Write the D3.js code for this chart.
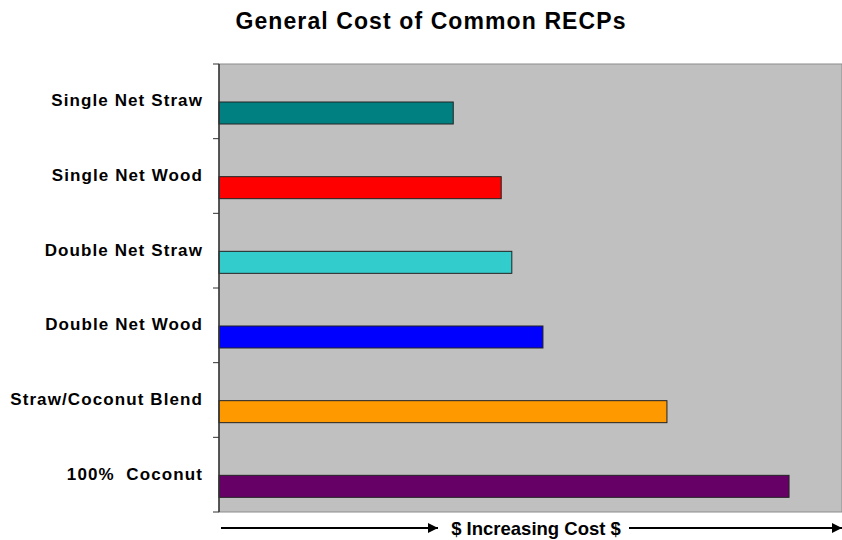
<!DOCTYPE html>
<html>
<head>
<meta charset="utf-8">
<script src="https://cdn.jsdelivr.net/npm/d3@7"></script>
<style>
  body { margin: 0; background: #fff; }
  text { font-family: "Liberation Sans", Arial, sans-serif; }
</style>
</head>
<body>
<script>
// chart data
var categories = ["Single Net Straw", "Single Net Wood", "Double Net Straw", "Double Net Wood", "Straw/Coconut Blend", "100%  Coconut"];
var costs = [37.6, 45.3, 47.0, 52.0, 71.9, 91.5];
var colors = ["#008080", "#ff0000", "#33cccc", "#0000ff", "#ff9900", "#660066"];

var width = 842, height = 540;
var plotLeft = 219, plotTop = 64, plotRight = 842, plotBottom = 512;

var svg = d3.select("body").append("svg")
    .attr("width", width).attr("height", height);

var arrowDef = svg.append("defs").append("marker")
    .attr("id", "arr")
    .attr("viewBox", "0 0 10 10")
    .attr("refX", 10).attr("refY", 5)
    .attr("markerWidth", 10).attr("markerHeight", 10)
    .attr("markerUnits", "userSpaceOnUse")
    .attr("orient", "auto");
arrowDef.append("path").attr("d", "M0,0 L10,5 L0,10 Z").attr("fill", "#000");

var x = d3.scaleLinear().domain([0, 100]).range([plotLeft, plotRight]);
var y = d3.scaleBand().domain(categories).range([plotTop, plotBottom]).padding(0);

// plot area
svg.append("rect")
    .attr("x", plotLeft).attr("y", plotTop)
    .attr("width", plotRight - plotLeft).attr("height", plotBottom - plotTop)
    .attr("fill", "#c0c0c0")
    .attr("stroke", "#8c8c8c").attr("stroke-width", 1);

// bars (sit in the lower half of each band, like the original)
svg.append("g").selectAll("rect")
    .data(costs).enter()
    .append("rect")
    .attr("x", x(0))
    .attr("y", (d, i) => y(categories[i]) + 38)
    .attr("width", d => x(d) - x(0))
    .attr("height", 22)
    .attr("fill", (d, i) => colors[i])
    .attr("stroke", "#222")
    .attr("stroke-width", 1);

// left axis with ticks between categories
var tickYs = categories.map(c => y(c)).concat([plotBottom]);
svg.append("g").selectAll("line")
    .data(tickYs).enter()
    .append("line")
    .attr("x1", plotLeft - 6).attr("x2", plotLeft)
    .attr("y1", d => d).attr("y2", d => d)
    .attr("stroke", "#333");
svg.append("line")
    .attr("x1", plotLeft).attr("x2", plotLeft)
    .attr("y1", plotTop).attr("y2", plotBottom)
    .attr("stroke", "#333").attr("stroke-width", 1.5);

svg.append("g").selectAll("text")
    .data(categories).enter()
    .append("text")
    .attr("x", 203)
    .attr("y", d => y(d) + 38)
    .attr("text-anchor", "end")
    .attr("dominant-baseline", "middle")
    .attr("font-size", 17)
    .attr("font-weight", "bold")
    .attr("letter-spacing", 1.1)
    .style("white-space", "pre")
    .text(d => d);

// title
svg.append("text")
    .attr("x", 431).attr("y", 29)
    .attr("text-anchor", "middle")
    .attr("font-size", 23)
    .attr("font-weight", "bold")
    .attr("letter-spacing", 1.1)
    .text("General Cost of Common RECPs");

// bottom arrows and caption
svg.append("line")
    .attr("x1", 221).attr("x2", 438)
    .attr("y1", 528).attr("y2", 528)
    .attr("stroke", "#000").attr("stroke-width", 2)
    .attr("marker-end", "url(#arr)");
svg.append("text")
    .attr("x", 536).attr("y", 535)
    .attr("text-anchor", "middle")
    .attr("font-size", 18.5)
    .attr("font-weight", "bold")
    .text("$ Increasing Cost $");
svg.append("line")
    .attr("x1", 629).attr("x2", 842)
    .attr("y1", 528).attr("y2", 528)
    .attr("stroke", "#000").attr("stroke-width", 2)
    .attr("marker-end", "url(#arr)");
</script>
</body>
</html>
